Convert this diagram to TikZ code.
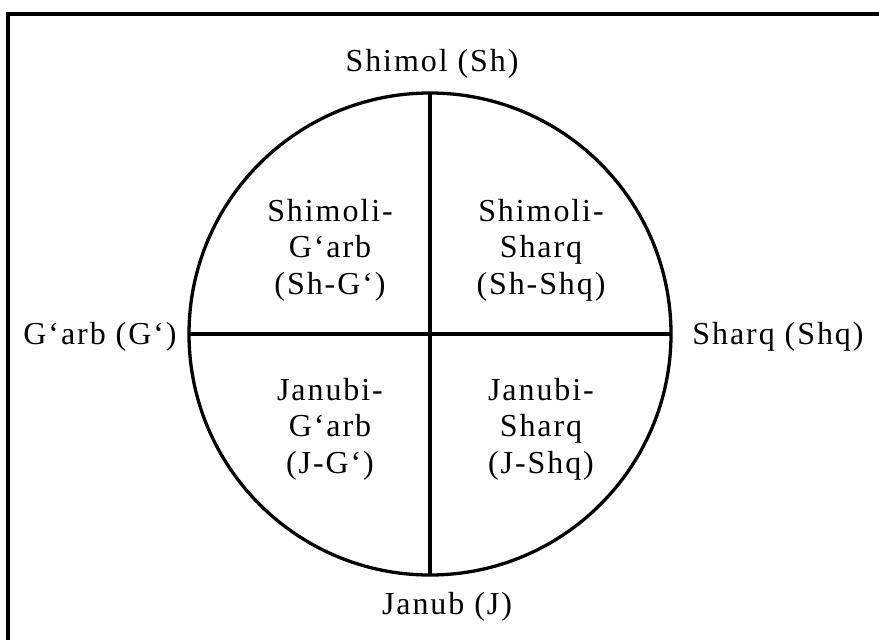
\documentclass[tikz,border=0pt]{standalone}
\usepackage{fontspec}
\setmainfont{Liberation Serif}[LetterSpace=6]
\begin{document}
\begin{tikzpicture}[x=1pt,y=-1pt,
  ln/.style={line width=3.3pt, black},
  lbl/.style={font=\fontsize{32}{36.5}\selectfont, inner sep=0pt, align=center},
]
\useasboundingbox (0,0) rectangle (879,640);
\fill[white] (0,0) rectangle (879,640);
\draw[line width=3.4pt] (8,640) -- (8,14) -- (879,14);
\coordinate (c) at (430,334);
\draw[ln] (c) circle[radius=241];
\coordinate (w) at (189,334);
\coordinate (e) at (671,334);
\coordinate (n) at (430,93);
\coordinate (s) at (430,575);
\draw[ln] (w) -- (e);
\draw[ln] (n) -- (s);
\node[lbl] (nl) at (432,64) {Shimol (Sh)};
\node[lbl] (sl) at (447,607) {Janub (J)};
\node[lbl] (wl) at (100,337) {G‘arb (G‘)};
\node[lbl] (el) at (778,337) {Sharq (Shq)};
\node[lbl] (nw) at (330,250) {Shimoli-\\G‘arb\\(Sh-G‘)};
\node[lbl] (ne) at (541,250) {Shimoli-\\Sharq\\(Sh-Shq)};
\node[lbl] (sw) at (330,429) {Janubi-\\G‘arb\\(J-G‘)};
\node[lbl] (se) at (541,429) {Janubi-\\Sharq\\(J-Shq)};
\end{tikzpicture}
\end{document}
